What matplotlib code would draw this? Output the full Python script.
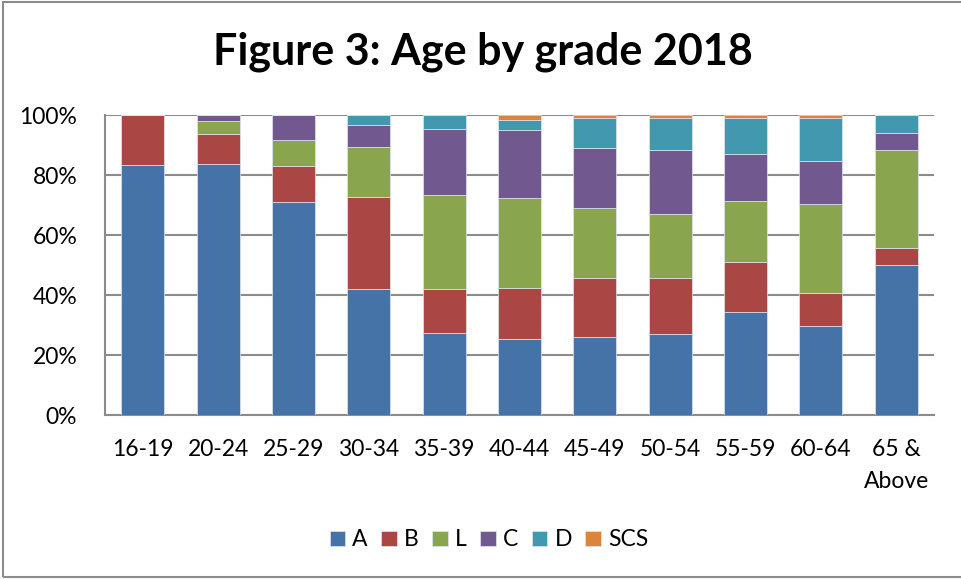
import numpy as np
import matplotlib
matplotlib.use("Agg")
from matplotlib import pyplot
from matplotlib.patches import Rectangle

pyplot.rcParams['font.family'] = ['Lato', 'DejaVu Sans']

ages = ["16-19", "20-24", "25-29", "30-34", "35-39", "40-44",
        "45-49", "50-54", "55-59", "60-64", "65 &\nAbove"]
grades = ["A", "B", "L", "C", "D", "SCS"]

# share of each grade within an age band, in percent
gradeA = [83.3, 83.6, 70.9, 41.9, 27.2, 25.4, 26.0, 26.9, 34.4, 29.6, 49.9]
gradeB = [16.7, 10.2, 12.0, 30.7, 14.9, 17.0, 19.6, 18.9, 16.5, 11.2, 5.9]
gradeL = [0.0, 4.2, 8.7, 16.7, 31.1, 29.9, 23.3, 21.2, 20.5, 29.6, 32.5]
gradeC = [0.0, 2.0, 8.4, 7.3, 22.1, 22.6, 20.0, 21.4, 15.5, 14.4, 5.8]
gradeD = [0.0, 0.0, 0.0, 3.4, 4.7, 3.5, 10.2, 10.7, 12.0, 14.1, 5.9]
gradeSCS = [0.0, 0.0, 0.0, 0.0, 0.0, 1.6, 0.9, 0.9, 1.1, 1.1, 0.0]

colors = ['#4572A7', '#AA4643', '#89A54E', '#71588F', '#4198AF', '#DB843D']

fig = pyplot.figure(figsize=(9.62, 5.79), dpi=100)
ax = fig.add_axes([105/962, 1 - 415/579, 829/962, 300/579])

series = [gradeA, gradeB, gradeL, gradeC, gradeD, gradeSCS]
x = np.arange(len(ages))
bottom = np.zeros(len(ages))
for name, vals, c in zip(grades, series, colors):
    vals = np.array(vals)
    ax.bar(x, vals, 0.57, bottom=bottom, color=c, label=name,
           edgecolor='#dfe6ee', linewidth=0.5, zorder=3)
    bottom += vals

ax.set_xlim(-0.5, len(ages) - 0.5)
ax.set_ylim(0, 100)
ax.set_yticks(np.arange(0, 101, 20))
ax.set_yticklabels(["%d%%" % v for v in range(0, 101, 20)], fontsize=16.5)
ax.set_xticks(x)
ax.set_xticklabels(ages, fontsize=16.5, linespacing=1.65, va='top')
ax.tick_params(axis='both', length=0)
ax.tick_params(axis='y', pad=20)
ax.tick_params(axis='x', pad=17)

ax.yaxis.grid(True, color='#8c8c8c', linewidth=1.5, zorder=0)
for side in ['top', 'right']:
    ax.spines[side].set_visible(False)
for side in ['left', 'bottom']:
    ax.spines[side].set_color('#8c8c8c')
    ax.spines[side].set_linewidth(1.5)

fig.text(483/962, 1 - 52/579, "Figure 3: Age by grade 2018",
         fontsize=31, fontweight='bold', ha='center', va='center')

leg = fig.legend(loc='center', bbox_to_anchor=(489/962, 1 - 540/579),
                 ncol=6, frameon=False, fontsize=16.5, handlelength=0.68,
                 handleheight=0.68, handletextpad=0.32, columnspacing=0.58)

fig.patches.append(Rectangle((3/962, 2/579), 1.0, 575/579,
                             transform=fig.transFigure, fill=False,
                             edgecolor='#8c8c8c', linewidth=1.5))

pyplot.savefig("out.png", dpi=100)
